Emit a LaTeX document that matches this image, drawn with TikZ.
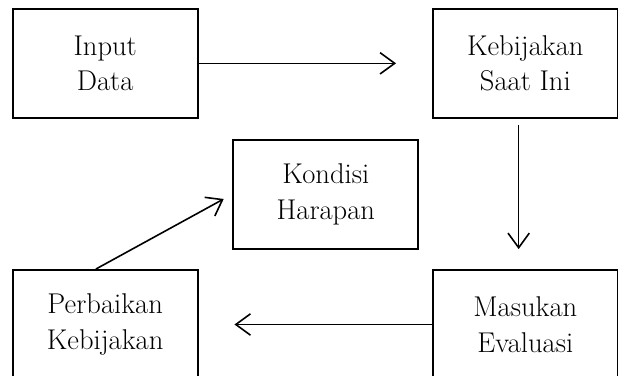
\documentclass[tikz,border=0pt]{standalone}
\usetikzlibrary{positioning, arrows.meta}
\tikzset{
every node/.style={font=\fontsize{21.5}{27}\selectfont}, % text size of the labels
box/.style={draw, line width=1.4pt, minimum width=139pt, minimum height=82pt, align=center, inner sep=0pt}, % the framed steps
flow/.style={->, line width=1.2pt}, % the connectors
>={Straight Barb[length=11pt,width=16pt]}, % open arrow heads
}

\begin{document}
\begin{tikzpicture}
    \useasboundingbox (-79.1pt,47.6pt) rectangle (385.6pt,-234.4pt);
    \node[box] (inp) {Input\\Data};
    \node[box, right=175.5pt of inp] (kbj) {Kebijakan\\Saat Ini};
    \node[box, below right=15pt and 25.5pt of inp] (kh) {Kondisi\\Harapan};
    \node[box, below=113pt of inp] (pk) {Perbaikan\\Kebijakan};
    \node[box, below=113pt of kbj] (me) {Masukan\\Evaluasi};
    \draw[flow, shorten >=27pt] (inp) -- (kbj);
    \draw[flow, shorten <=4.5pt, shorten >=15pt] ([xshift=-5pt]kbj.south) -- ([xshift=-5pt]me.north);
    \draw[flow, shorten >=27pt] (me) -- (pk);
    \draw[flow, shorten >=7.5pt] ([xshift=-7pt]pk.north) -- (kh.west);
\end{tikzpicture}
\end{document}
